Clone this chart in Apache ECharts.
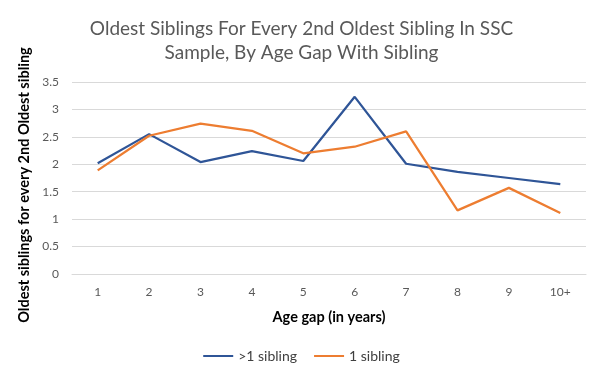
<!DOCTYPE html>
<html><head><meta charset="utf-8">
<script src="https://cdn.jsdelivr.net/npm/echarts@6/dist/echarts.min.js"></script>
<style>html,body{margin:0;padding:0;background:#fff}#c{width:603px;height:376px}</style>
</head><body><div id="c"></div>
<script>
const categories = ['1','2','3','4','5','6','7','8','9','10+'];
const moreThanOne = [2.02, 2.55, 2.04, 2.24, 2.06, 3.23, 2.01, 1.86, 1.75, 1.64];
const oneSibling = [1.89, 2.52, 2.74, 2.61, 2.20, 2.32, 2.60, 1.16, 1.57, 1.11];
const yTicks = [0, 0.5, 1, 1.5, 2, 2.5, 3, 3.5];

const chart = echarts.init(document.getElementById('c'));
const font = 'Lato, "Open Sans", sans-serif';
chart.setOption({
  animation: false,
  title: {
    text: 'Oldest Siblings For Every 2nd Oldest Sibling In SSC\nSample, By Age Gap With Sibling',
    left: 'center', top: 12,
    textStyle: {fontFamily: font, fontSize: 19, fontWeight: 'normal', color: '#595959', lineHeight: 24}
  },
  legend: {
    bottom: 8, left: 'center', itemWidth: 30, itemHeight: 2, itemGap: 17,
    icon: 'rect',
    textStyle: {fontFamily: font, fontSize: 14, color: '#404040'},
    data: ['>1 sibling', '1 sibling']
  },
  grid: {left: 72, right: 17, top: 82, bottom: 102, containLabel: false},
  xAxis: {
    type: 'category', data: categories, boundaryGap: true,
    name: 'Age gap (in years)', nameLocation: 'middle', nameGap: 36,
    nameTextStyle: {fontFamily: font, fontSize: 14.5, fontWeight: 'bold', color: '#000'},
    axisLine: {show: true, lineStyle: {color: '#d9d9d9'}},
    axisTick: {show: false},
    axisLabel: {fontFamily: font, fontSize: 12, color: '#595959', margin: 12}
  },
  yAxis: {
    type: 'value', min: 0, max: 3.5, interval: 0.5,
    name: 'Oldest siblings for every 2nd Oldest sibling', nameLocation: 'middle', nameGap: 37,
    nameTextStyle: {fontFamily: font, fontSize: 14.5, fontWeight: 'bold', color: '#000', padding: [0, 14, 0, 0]},
    axisLine: {show: false}, axisTick: {show: false},
    axisLabel: {fontFamily: font, fontSize: 12, color: '#595959', margin: 13,
      formatter: v => yTicks.includes(v) ? String(v) : ''},
    splitLine: {lineStyle: {color: '#d9d9d9', width: 1}}
  },
  series: [
    {name: '>1 sibling', type: 'line', data: moreThanOne, symbol: 'none',
     lineStyle: {color: '#2F5597', width: 2.25}, itemStyle: {color: '#2F5597'}},
    {name: '1 sibling', type: 'line', data: oneSibling, symbol: 'none',
     lineStyle: {color: '#ED7D31', width: 2.25}, itemStyle: {color: '#ED7D31'}}
  ]
});
</script></body></html>
